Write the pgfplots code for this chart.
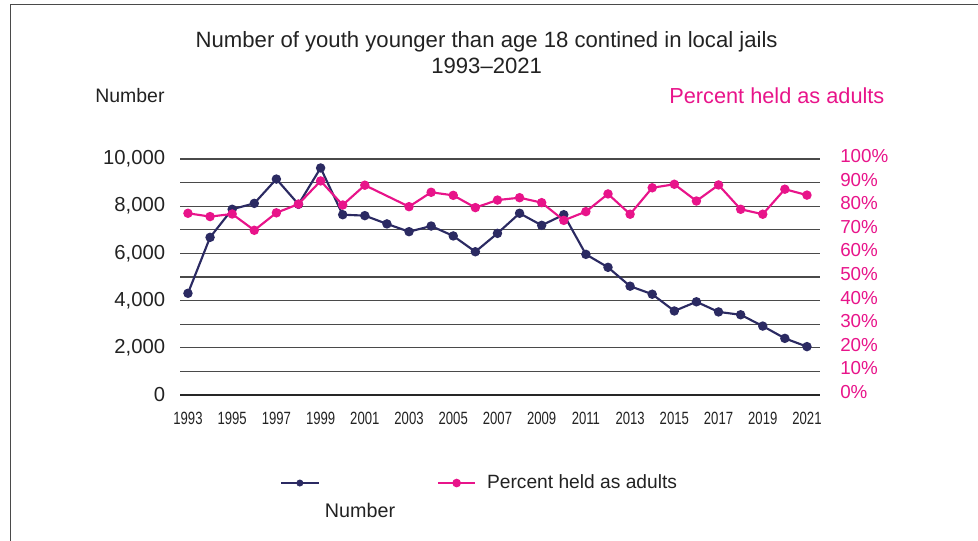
\documentclass[border=0pt]{standalone}
\usepackage{pgfplots}
\pgfplotsset{compat=1.18}
\usepackage{fontspec}
\setmainfont{Liberation Sans}
\newfontfamily\condfont[FakeStretch=0.74]{Liberation Sans}
\definecolor{navy}{HTML}{2B2A62}
\definecolor{pinkc}{HTML}{E8148A}
\definecolor{gridc}{HTML}{4A4A4A}
\definecolor{txt}{HTML}{222222}
\pgfplotstableread{
year num
1993 4310
1994 6680
1995 7870
1996 8120
1997 9150
1998 8080
1999 9620
2000 7640
2001 7600
2002 7250
2003 6920
2004 7160
2005 6740
2006 6070
2007 6850
2008 7700
2009 7190
2010 7640
2011 5960
2012 5410
2013 4610
2014 4270
2015 3560
2016 3950
2017 3520
2018 3400
2019 2920
2020 2400
2021 2050
}\numtable
\pgfplotstableread{
year pct
1993 77.0
1994 75.6
1995 76.7
1996 69.8
1997 77.2
1998 80.9
1999 90.7
2000 80.5
2001 88.9
2003 79.8
2004 85.9
2005 84.6
2006 79.4
2007 82.6
2008 83.6
2009 81.5
2010 74.0
2011 77.7
2012 85.2
2013 76.6
2014 87.8
2015 89.3
2016 82.2
2017 89.0
2018 78.7
2019 76.6
2020 87.2
2021 84.7
}\pcttable
\begin{document}
\begin{tikzpicture}
\useasboundingbox (0,0) rectangle (733.5pt,-405.75pt);
\draw[gridc, line width=0.9pt] (7.7pt,-405.75pt) -- (7.7pt,-3.5pt) -- (733.5pt,-3.5pt);
\begin{axis}[
  at={(135pt,-296.25pt)}, anchor=south west,
  scale only axis, width=480pt, height=177pt,
  xmin=1992.64, xmax=2021.59, ymin=0, ymax=10000,
  axis y line*=left, axis x line*=bottom,
  axis line style={draw=none},
  xtick={1993,1995,...,2021},
  xticklabels={1993,1995,1997,1999,2001,2003,2005,2007,2009,2011,2013,2015,2017,2019,2021},
  xticklabel style={font=\condfont\fontsize{13.3}{13.3}\selectfont, text=txt, anchor=center, yshift=-17.25pt},
  ytick={0,1000,...,10000},
  yticklabels={0,,2{,}000,,4{,}000,,6{,}000,,8{,}000,,10{,}000},
  scaled y ticks=false,
  yticklabel style={font=\fontsize{15.2}{15.2}\selectfont, text=txt, anchor=east, inner sep=0pt, xshift=-11pt},
  major tick length=0pt,
  ymajorgrids,
  grid style={gridc, line width=0.9pt},
  clip=false,
]
\draw[black!85, line width=1.4pt] (axis cs:1992.64,0) -- (axis cs:2021.59,0);
\addplot[navy, line width=1.6pt, mark=*, mark size=2.7pt, mark options={fill=navy, draw=navy}] table[x=year,y=num]{\numtable};
\end{axis}
\begin{axis}[
  at={(135pt,-296.25pt)}, anchor=south west,
  scale only axis, width=480pt, height=177pt,
  xmin=1992.64, xmax=2021.59, ymin=0, ymax=100,
  axis y line*=right, axis x line=none,
  axis line style={draw=none},
  ytick={0,10,...,100},
  yticklabels={0\%,10\%,20\%,30\%,40\%,50\%,60\%,70\%,80\%,90\%,100\%},
  scaled y ticks=false,
  yticklabel style={font=\fontsize{14.1}{14.1}\selectfont, text=pinkc, anchor=west, inner sep=0pt, xshift=15pt, yshift=2.3pt},
  major tick length=0pt,
  clip=false,
  legend style={at={(0.156,-0.373)}, anchor=west, draw=none, fill=none,
    inner sep=0pt, font=\fontsize{14.4}{14.4}\selectfont, text=txt,
    /tikz/every odd column/.append style={column sep=6pt},
    /tikz/every even column/.append style={column sep=78pt}},
  legend columns=2,
  legend image code/.code={
    \draw[#1, line width=1.6pt] (0pt,0pt) -- (28pt,0pt);
    \draw[#1, mark size=2.4pt] plot coordinates {(14pt,0pt)};
  },
]
\addlegendimage{navy, mark=*, mark options={fill=navy, draw=navy}}
\addlegendentry{}
\addplot[pinkc, line width=1.6pt, mark=*, mark size=2.7pt, mark options={fill=pinkc, draw=pinkc}] table[x=year,y=pct]{\pcttable};
\addlegendentry{Percent held as adults}
\end{axis}
\node[font=\fontsize{16.6}{19.5}\selectfont, text=txt, align=center] at (365pt,-39.75pt) {Number of youth younger than age 18 contined in local jails\\1993--2021};
\node[font=\fontsize{14.6}{14.6}\selectfont, text=txt, anchor=west, inner sep=0pt] at (71.25pt,-72pt) {Number};
\node[font=\fontsize{16.3}{16.3}\selectfont, text=pinkc, anchor=east, inner sep=0pt] at (663.5pt,-72pt) {Percent held as adults};
\node[font=\fontsize{14.8}{14.8}\selectfont, text=txt] at (270pt,-382.5pt) {Number};
\end{tikzpicture}
\end{document}
